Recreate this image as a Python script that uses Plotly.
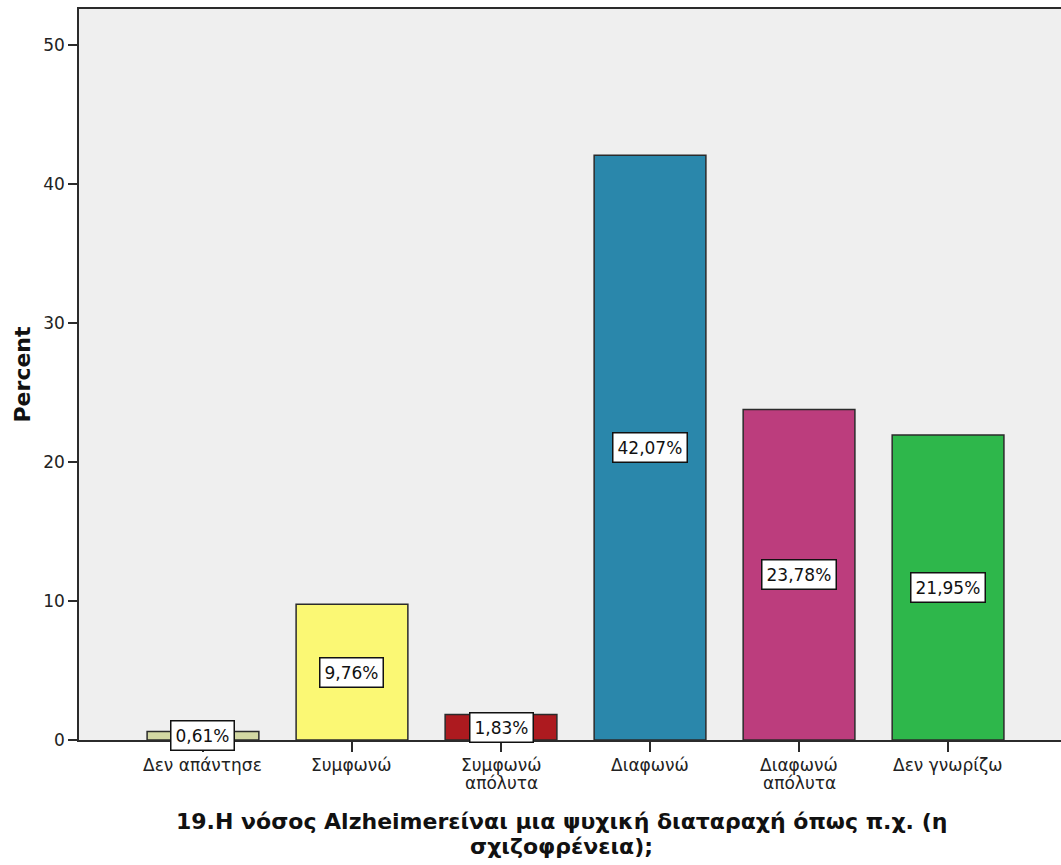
import plotly.graph_objects as go

# Survey responses (percent of respondents)
categories = ["Δεν απάντησε", "Συμφωνώ", "Συμφωνώ\nαπόλυτα", "Διαφωνώ",
              "Διαφωνώ\nαπόλυτα", "Δεν γνωρίζω"]
percents = [0.61, 9.76, 1.83, 42.07, 23.78, 21.95]
bar_colors = ["#d3d8a3", "#fbf874", "#ad1a1f", "#2a87ab", "#bc3d7d", "#2eb74b"]
y_ticks = [0, 10, 20, 30, 40, 50]
x_title_lines = ["19.Η νόσος Alzheimerείναι μια ψυχική διαταραχή όπως π.χ. (η",
                 "σχιζοφρένεια);"]

x_pos = list(range(len(categories)))
font_family = "DejaVu Sans, Verdana, sans-serif"

W, H = 1061, 865
M_L, M_R, M_T, M_B = 79, 0, 9, 125
plot_w = W - M_L - M_R
plot_h = H - M_T - M_B


def px_to_paper_y(py):
    """Page pixel row -> paper y coordinate."""
    return (H - M_B - py) / plot_h


def px_to_paper_x(px):
    return (px - M_L) / plot_w


fig = go.Figure()
fig.add_trace(go.Bar(
    x=x_pos,
    y=percents,
    width=0.75,
    marker=dict(color=bar_colors, line=dict(color="#2b2b2b", width=1.5)),
    hoverinfo="skip",
))

# Value labels in white boxes at mid-height of each bar
for xi, v in zip(x_pos, percents):
    fig.add_annotation(
        x=xi, y=v / 2, xref="x", yref="y",
        text=f"{v:.2f}%".replace(".", ","),
        showarrow=False,
        font=dict(family=font_family, size=17, color="#111"),
        bgcolor="white", bordercolor="#111", borderwidth=1.5, borderpad=4,
    )

# Category labels, one annotation per line for tight line spacing
for xi, cat in zip(x_pos, categories):
    for k, line in enumerate(cat.split("\n")):
        fig.add_annotation(
            x=xi, xref="x", y=px_to_paper_y(765 + 18 * k), yref="paper",
            yanchor="middle", text=line, showarrow=False,
            font=dict(family=font_family, size=17, color="#222"),
        )

# Axis title below the category labels
for k, line in enumerate(x_title_lines):
    fig.add_annotation(
        x=px_to_paper_x(561), xref="paper",
        y=px_to_paper_y(821 + 25 * k), yref="paper",
        yanchor="middle", text=f"<b>{line}</b>", showarrow=False,
        font=dict(family=font_family, size=22, color="#111"),
    )

fig.update_layout(
    width=W, height=H,
    margin=dict(l=M_L, r=M_R, t=M_T, b=M_B),
    paper_bgcolor="white",
    plot_bgcolor="#efefef",
    showlegend=False,
    font=dict(family=font_family, size=17, color="#222"),
    xaxis=dict(
        tickmode="array", tickvals=x_pos, showticklabels=False,
        range=[-0.832, 5.758],
        showline=True, linecolor="#2b2b2b", linewidth=1.5, mirror=True,
        ticks="outside", ticklen=10, tickcolor="#2b2b2b", tickwidth=1.5,
        showgrid=False, zeroline=False,
    ),
    yaxis=dict(
        range=[0, 52.6],
        tickmode="array", tickvals=y_ticks,
        showline=True, linecolor="#2b2b2b", linewidth=1.5,
        ticks="outside", ticklen=9, tickcolor="#2b2b2b", tickwidth=1.5,
        showgrid=False, zeroline=False,
        title=dict(text="<b>Percent</b>",
                   font=dict(family=font_family, size=22, color="#111"),
                   standoff=7),
        tickfont=dict(family=font_family, size=17, color="#222"),
    ),
)

fig.write_html("out.html")
